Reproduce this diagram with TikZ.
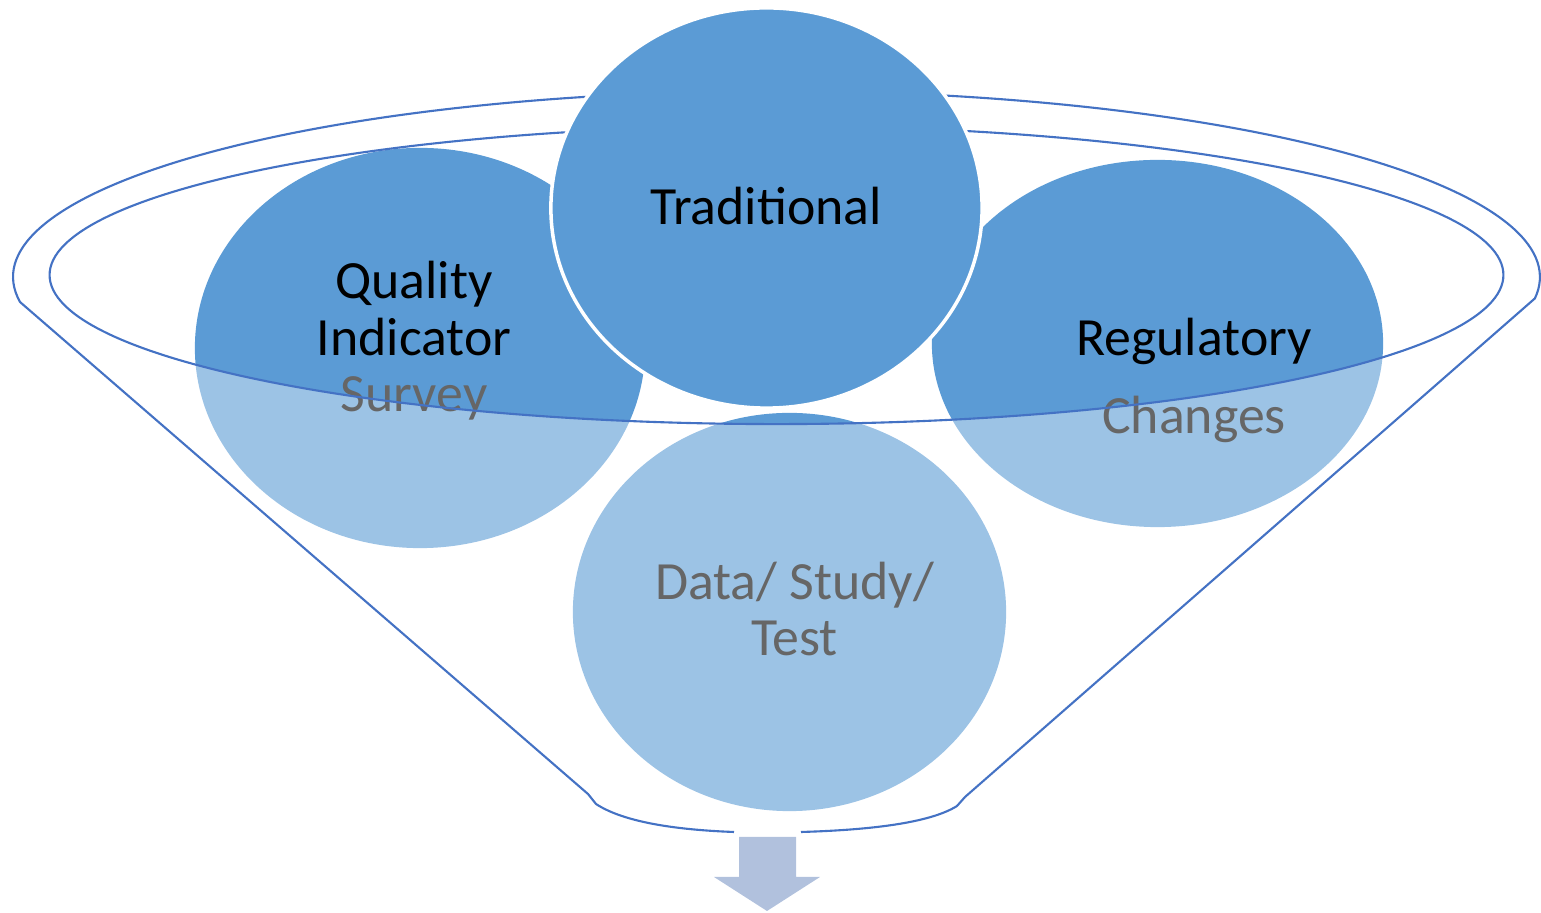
\documentclass[tikz,border=0pt]{standalone}
\usepackage{fontspec}
\setmainfont{Carlito}
\usepackage{tikz}
\usetikzlibrary{shapes.geometric}
\definecolor{bubbleblue}{HTML}{5B9BD5}
\definecolor{rimblue}{HTML}{4472C4}
\definecolor{arrowblue}{RGB}{177,193,221}
\definecolor{fadedtext}{HTML}{666666}

\begin{document}
\begin{tikzpicture}[x=0.01cm, y=-0.01cm,
    bubble/.style={ellipse, fill=bubbleblue, inner sep=0pt},
    rim/.style={draw=rimblue, line width=0.6pt},
    txt/.style={font=\fontsize{15.3pt}{16.1pt}\selectfont, align=center, anchor=base}]
  \useasboundingbox (0,0) rectangle (1541,913);

  % circles sitting in the funnel
  \node[bubble, minimum width=4.5cm, minimum height=4cm] (qis) at (420,348) {};
  \node[bubble, minimum width=4.51cm, minimum height=3.67cm] (reg) at (1157.5,343.5) {};
  \node[bubble, minimum width=4.33cm, minimum height=3.98cm] (data) at (789.5,612) {};

  \coordinate (rimC) at (776.5,275);
  \coordinate (lTop) at (20,302);
  \coordinate (lBot) at (588,794);
  \coordinate (rTop) at (1534,300);
  \coordinate (rBot) at (965,797);
  \coordinate (gapL) at (734,832);
  \coordinate (gapR) at (801,832);

  % funnel body, washes out what lies below the opening
  \begin{scope}
    \clip (0,0) -- (0,290) -- (lTop) -- (lBot) -- (776,845) -- (rBot) -- (rTop) -- (1541,290) -- (1541,0) -- cycle;
    \fill[white, opacity=0.4, even odd rule] (0,0) rectangle (1541,913)
      (rimC) ellipse [x radius=7.265cm, y radius=1.49cm];
  \end{scope}

  % base anchor sits on the last line
  \node[txt] (qisT) at (414,412) {Quality\\Indicator\\\textcolor{fadedtext}{Survey}};
  \node[txt] (regT) at (1194,434) {Regulatory\\[0.215cm]\textcolor{fadedtext}{Changes}};
  \node[txt, text=fadedtext] (dataT) at (794.5,656) {Data/ Study/\\Test};

  % rim and cone
  \draw[rim] (rimC) ellipse [x radius=7.265cm, y radius=1.49cm];
  \draw[rim] (gapL) .. controls (680,830) and (625,823) .. (596,804) -- (lBot) -- (lTop)
    arc[start angle=187.7, end angle=-6.6, x radius=7.63cm, y radius=1.86cm]
    -- (rBot) -- (957,806) .. controls (930,823) and (870,830) .. (gapR);

  \node[bubble, draw=white, line width=1pt, minimum width=4.31cm, minimum height=4cm] (trad) at (766.5,208) {};
  \node[txt] (tradT) at (766,225) {Traditional};

  % outlet arrow
  \fill[arrowblue] (739,837) -- (796,837) -- (796,877) -- (820,877) -- (767,911) -- (714,877) -- (739,877) -- cycle;
\end{tikzpicture}
\end{document}
